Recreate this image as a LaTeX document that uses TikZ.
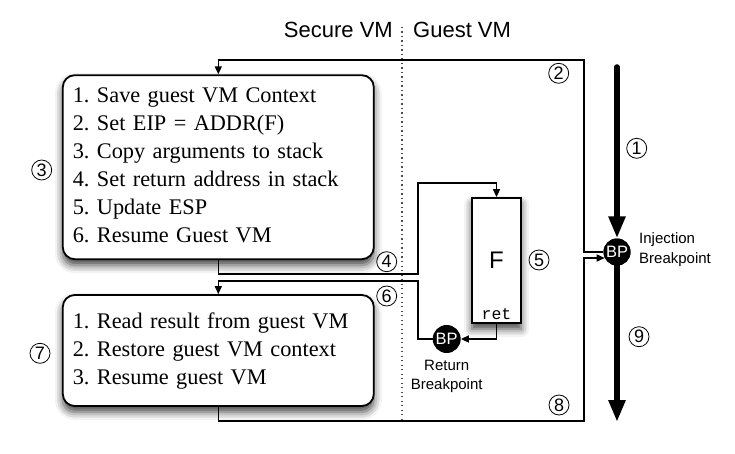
\documentclass[tikz,border=0pt]{standalone}
\usepackage{fontspec}
\setmainfont{Liberation Serif}
\setsansfont{Liberation Sans}
\setmonofont{Liberation Mono}
\usetikzlibrary{arrows.meta,shadows.blur,calc}
\begin{document}
\begin{tikzpicture}[x=1pt,y=-1pt,
  shad/.style={blur shadow={shadow xshift=0pt, shadow yshift=-6pt, shadow blur radius=8pt, shadow opacity=75}},
  stepbox/.style={draw, line width=1.8pt, rounded corners=12pt, fill=white, align=left,
    text width=291pt, inner xsep=10pt, inner ysep=0pt, font=\fontsize{22.3}{28}\selectfont\frenchspacing, shad},
  fbox/.style={draw, line width=1.8pt, fill=white, minimum width=49pt, minimum height=125pt,
    inner sep=0pt, font=\sffamily\fontsize{24}{24}\selectfont, shad},
  bp/.style={circle, fill=black, text=white, inner sep=0pt, minimum size=27pt,
    font=\sffamily\fontsize{16.5}{16.5}\selectfont},
  lbl/.style={font=\sffamily\fontsize{15}{19.3}\selectfont, inner sep=0pt},
  ttl/.style={font=\sffamily\fontsize{22}{22}\selectfont, inner sep=0pt},
  num/.style={circle, draw, line width=0.8pt, inner sep=0pt, minimum size=20pt,
    font=\sffamily\fontsize{18}{18}\selectfont},
  arr/.style={line width=1.6pt, -{Triangle[length=8pt,width=7pt]}},
  thickarr/.style={line width=5.5pt, line cap=round, -{Triangle[length=22pt,width=16pt]}},
  divider/.style={line width=1.3pt, gray!60!black, dash pattern=on 1.3pt off 3.2pt}
]
\useasboundingbox (0,0) rectangle (735,454);

% divider and titles
\coordinate (dtop) at (402,27);
\coordinate (dbot) at (402,421);
\draw[divider] (dtop) -- (dbot);
\node[ttl, anchor=base east] (tsec) at (393,37.5) {Secure VM};
\node[ttl, anchor=base west] (tguest) at (413,37.5) {Guest VM};

% boxes
\node[stepbox, minimum height=184pt] (box1) at (218.3,167.2)
 {\strut 1. Save guest VM Context\\
  \strut 2. Set EIP = ADDR(F)\\
  \strut 3. Copy arguments to stack\\
  \strut 4. Set return address in stack\\
  \strut 5. Update ESP\\
  \strut 6. Resume Guest VM};
\node[stepbox, minimum height=111pt] (box2) at (218.3,350.5)
 {\strut 1. Read result from guest VM\\
  \strut 2. Restore guest VM context\\
  \strut 3. Resume guest VM};

\node[fbox] (F) at (496.5,260.5) {F};
\node[font=\ttfamily\fontsize{16.5}{16.5}\selectfont, anchor=base, inner sep=0pt] (ret) at (496.5,319) {ret};

% breakpoints
\node[bp] (inj) at (617,252) {BP};
\node[bp, minimum size=28pt] (rbp) at (446.7,339) {BP};
\node[lbl, anchor=west, align=left] (injlbl) at (639,249.5) {Injection\\Breakpoint};
\node[lbl, align=center] (rbplbl) at (446.7,376.5) {Return\\Breakpoint};

% connectors
\coordinate (c2) at (584,60);
\draw[arr] (inj.west) -| (c2) -| (box1.north);
\coordinate (c4) at (418,274);
\coordinate (c4b) at (418,183);
\draw[arr] (box1.south) |- (c4) -- (c4b) -| (F.north);
\draw[arr] (F.south) |- (rbp.east);
\coordinate (c6) at (418,281);
\draw[arr] (rbp.west) -| (c6) -| (box2.north);
\coordinate (c8) at (584,421);
\draw[arr] (box2.south) |- (c8) |- (inj.206);

% main thick flow
\coordinate (ttop) at (617,67);
\coordinate (tbot) at (617,422);
\draw[thickarr] (ttop) -- (inj.north);
\draw[thickarr] (inj.south) -- (tbot);
\node[bp] (inj2) at (inj) {BP};

% step numbers
\node[num] (n1) at (636.7,148.3) {1};
\node[num] (n2) at (558.7,73.3) {2};
\node[num] (n3) at (41.7,170) {3};
\node[num] (n4) at (386.7,261.7) {4};
\node[num] (n5) at (539,260) {5};
\node[num] (n6) at (386.7,296) {6};
\node[num] (n7) at (40,353.3) {7};
\node[num] (n8) at (559,405) {8};
\node[num] (n9) at (639,336.7) {9};
\end{tikzpicture}
\end{document}
